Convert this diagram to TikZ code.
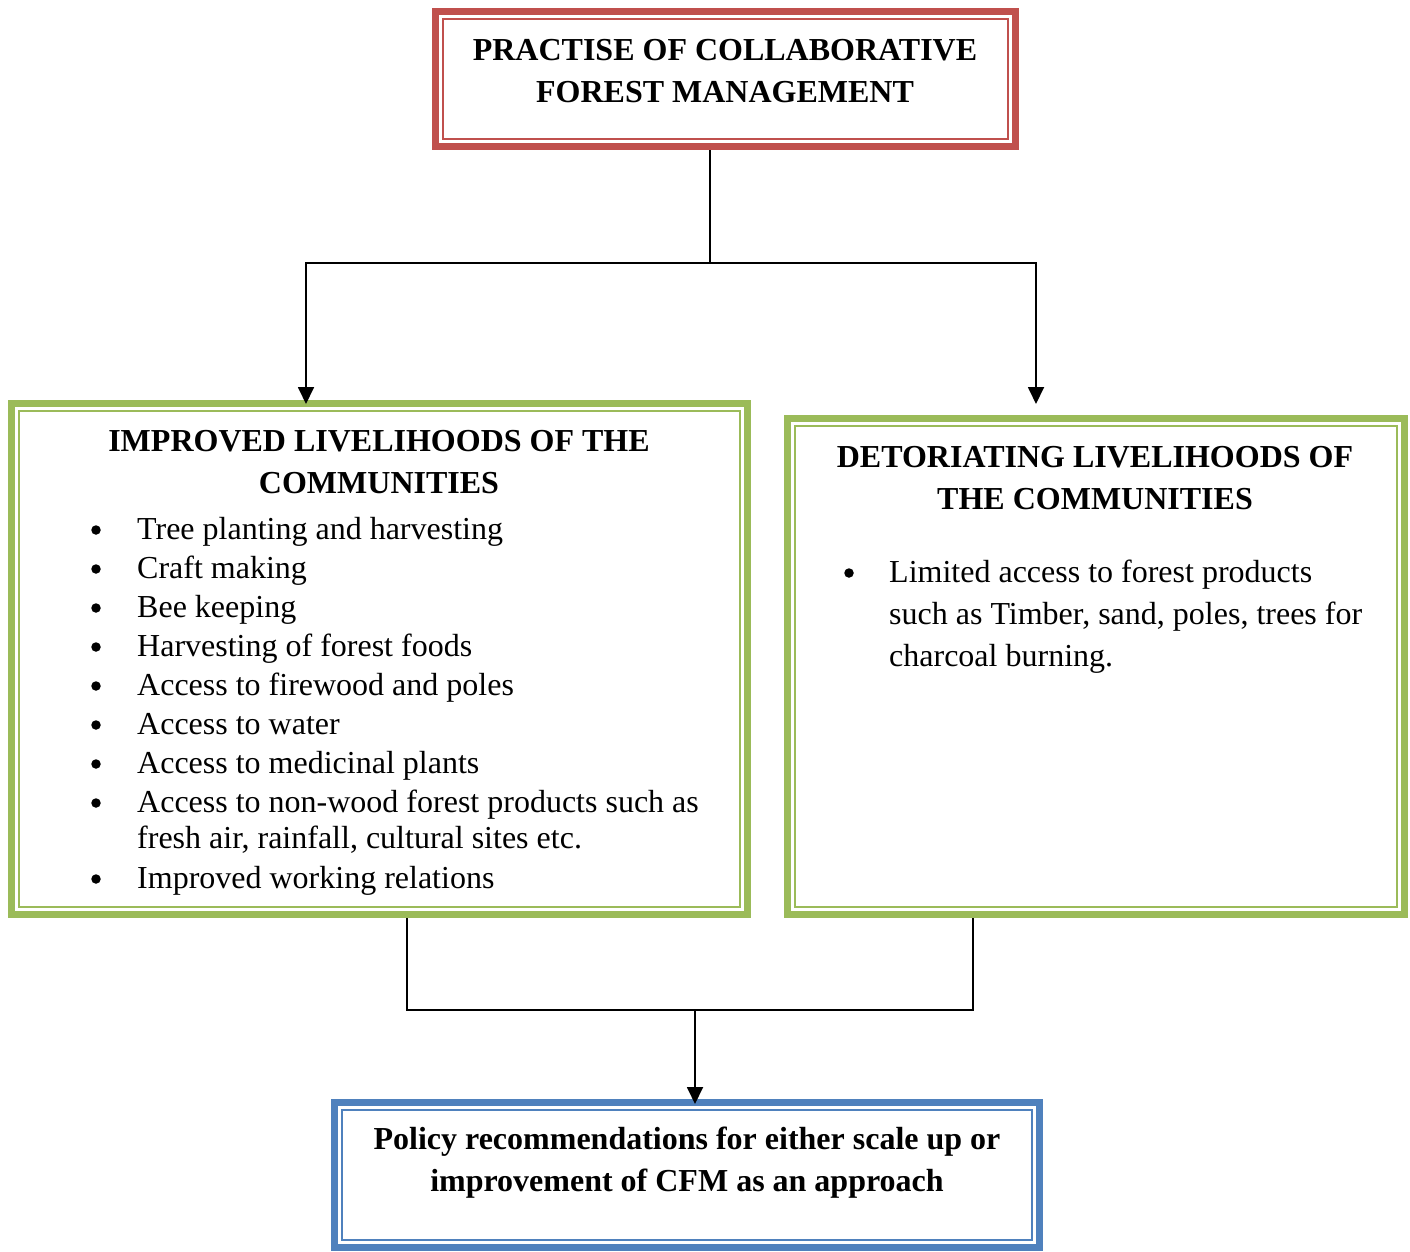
\documentclass[tikz,border=0pt]{standalone}
\usepackage{fontspec}
\setmainfont{Liberation Serif}
\usetikzlibrary{arrows.meta,calc}
\definecolor{cred}{HTML}{C0504D}
\definecolor{cgreen}{HTML}{9BBB59}
\definecolor{cblue}{HTML}{4F81BD}
\tikzset{
  framebox/.style={draw=#1, line width=7pt, inner sep=0pt, rectangle},
  innerframe/.style={draw=#1, line width=2pt},
  ttl/.style={font=\fontsize{32}{42}\selectfont\bfseries, align=center},
  itm/.style={font=\fontsize{32}{34}\selectfont, anchor=base west, inner sep=0pt},
  bul/.style={circle, fill=black, inner sep=0pt, minimum size=9.5pt},
  conn/.style={line width=1.8pt, draw=black},
  arr/.style={conn, -{Triangle[length=17pt,width=16pt]}},
}
\begin{document}
\begin{tikzpicture}[x=1pt,y=-1pt]
\useasboundingbox (0,0) rectangle (1410,1251);
% boxes
\node[framebox=cred, minimum width=580pt, minimum height=135pt] (top) at (725.5,79) {};
\node[framebox=cgreen, minimum width=736pt, minimum height=511pt] (left) at (379.5,659) {};
\node[framebox=cgreen, minimum width=617pt, minimum height=496pt] (right) at (1096,666.5) {};
\node[framebox=cblue, minimum width=705pt, minimum height=145pt] (bottom) at (687,1175) {};
% inner thin frames
\draw[innerframe=cred] ($(top.north west)+(11,11)$) rectangle ($(top.south east)+(-11,-11)$);
\draw[innerframe=cgreen] ($(left.north west)+(11,11)$) rectangle ($(left.south east)+(-11,-11)$);
\draw[innerframe=cgreen] ($(right.north west)+(11,11)$) rectangle ($(right.south east)+(-11,-11)$);
\draw[innerframe=cblue] ($(bottom.north west)+(11,11)$) rectangle ($(bottom.south east)+(-11,-11)$);
% titles
\node[ttl] (toptxt) at (725,71) {PRACTISE OF COLLABORATIVE\\FOREST MANAGEMENT};
\node[ttl] (lefttxt) at (379,462) {IMPROVED LIVELIHOODS OF THE\\COMMUNITIES};
\node[ttl] (righttxt) at (1095,478) {DETORIATING LIVELIHOODS OF\\THE COMMUNITIES};
\node[ttl] (bottxt) at (687,1163) {Policy recommendations for either scale up or\\improvement of CFM as an approach};
% left bullets
\foreach \yy/\tt [count=\i] in {
  539/Tree planting and harvesting,
  578/Craft making,
  617/Bee keeping,
  656/Harvesting of forest foods,
  695/Access to firewood and poles,
  734/Access to water,
  773/Access to medicinal plants,
  812/Access to non-wood forest products such as,
  888/Improved working relations}{
  \node[bul] (lb\i) at (96,\yy-9) {};
  \node[itm] (lt\i) at (137,\yy) {\tt};
}
\node[itm] (ltc) at (137,848) {fresh air, rainfall, cultural sites etc.};
% right bullet
\node[bul] (rb1) at (849,573) {};
\node[itm] (rt1) at (889,582) {Limited access to forest products};
\node[itm] (rt2) at (889,624) {such as Timber, sand, poles, trees for};
\node[itm] (rt3) at (889,666) {charcoal burning.};
% connectors
\coordinate (j) at (710,263);
\coordinate (tl) at (306,404);
\coordinate (tr) at (1036,404);
\draw[conn] (top.south -| j) -- (j);
\draw[arr] (j) -| (tl);
\draw[arr] (j) -| (tr);
\coordinate (bl) at (407,1010);
\coordinate (br) at (973,1010);
\coordinate (bm) at (695,1010);
\coordinate (tb) at (695,1104);
\draw[conn] (left.south -| bl) -- (bl) -- (br) -- (right.south -| br);
\draw[arr] (bm) -- (tb);
\end{tikzpicture}
\end{document}
